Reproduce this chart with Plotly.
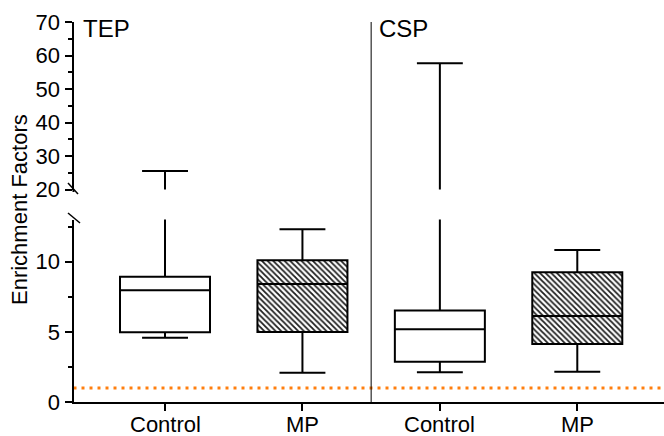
import plotly.graph_objects as go

W, H = 664, 436

# ---- data ----
groups = ["TEP Control", "TEP MP", "CSP Control", "CSP MP"]
tick_labels = ["Control", "MP", "Control", "MP"]
positions = [1, 2, 3, 4]
lower_whisker = [4.58, 2.09, 2.12, 2.16]
q1_vals = [4.97, 4.99, 2.87, 4.13]
median_vals = [7.96, 8.41, 5.18, 6.13]
q3_vals = [8.93, 10.10, 6.51, 9.24]
upper_whisker = [25.5, 12.31, 57.7, 10.83]
hatched = [False, True, False, True]
reference_level = 1.0
panel_labels = ["TEP", "CSP"]

# ---- geometry helpers (pixel -> paper) ----
def px(x):
    return x / W

def py(y):
    return 1 - y / H

FONT = "Liberation Sans, Arial, sans-serif"
x_range = [0.334, 4.631]
box_w = 0.655

fig = go.Figure()

# hatched fill for MP boxes (drawn under the box outlines)
hx = [p for p, h in zip(positions, hatched) if h]
hb = [q for q, h in zip(q1_vals, hatched) if h]
hy = [q3 - q for q3, q, h in zip(q3_vals, q1_vals, hatched) if h]
fig.add_trace(go.Bar(
    x=hx, y=hy, base=hb, width=box_w, xaxis="x", yaxis="y",
    marker=dict(color="white", line=dict(width=0),
                pattern=dict(shape="\\", size=4, solidity=0.45,
                             fgcolor="#1e1e1e", bgcolor="white", fillmode="replace")),
    showlegend=False, hoverinfo="skip"))

# box outlines on lower and upper axis segments
for ya in ["y", "y2"]:
    fig.add_trace(go.Box(
        x=positions, q1=q1_vals, median=median_vals, q3=q3_vals,
        lowerfence=lower_whisker, upperfence=upper_whisker,
        width=box_w, whiskerwidth=0.51, boxpoints=False,
        fillcolor="rgba(0,0,0,0)", line=dict(color="black", width=2),
        xaxis="x", yaxis=ya, showlegend=False, hoverinfo="skip"))

# orange dotted reference line
fig.add_trace(go.Scatter(
    x=x_range, y=[reference_level, reference_level], mode="lines",
    line=dict(color="#FF7F0E", width=3, dash="3px,5px"),
    xaxis="x", yaxis="y", showlegend=False, hoverinfo="skip"))

fig.update_layout(
    width=W, height=H,
    margin=dict(l=0, r=0, t=0, b=0, autoexpand=False),
    paper_bgcolor="white", plot_bgcolor="rgba(0,0,0,0)",
    font=dict(family=FONT, size=22, color="black"),
    xaxis=dict(domain=[px(73.5), 1], range=x_range, anchor="y", automargin=False,
               tickvals=positions, showticklabels=False,
               showline=True, linecolor="black", linewidth=1.5,
               ticks="outside", ticklen=7, tickwidth=2, tickcolor="black",
               showgrid=False, zeroline=False),
    yaxis=dict(domain=[py(402), py(219.5)], range=[0, 13.0], anchor="x", automargin=False,
               tickvals=[0, 5, 10], showline=True, linecolor="black", linewidth=2,
               ticks="outside", ticklen=7, tickwidth=2, tickcolor="black",
               minor=dict(tickvals=[2.5, 7.5, 12.5], ticks="outside", ticklen=4,
                          tickwidth=2, tickcolor="black"),
               showgrid=False, zeroline=False,
               tickfont=dict(size=22, family=FONT)),
    yaxis2=dict(domain=[py(189.5), py(22)], range=[20, 70], anchor="x", automargin=False,
                tickvals=[20, 30, 40, 50, 60, 70], showline=True, linecolor="black",
                linewidth=2, ticks="outside", ticklen=7, tickwidth=2, tickcolor="black",
                minor=dict(tickvals=[25, 35, 45, 55, 65], ticks="outside", ticklen=4,
                           tickwidth=2, tickcolor="black"),
                showgrid=False, zeroline=False,
                tickfont=dict(size=22, family=FONT)),
)

shapes = [
    # panel separator
    dict(type="line", xref="x", yref="paper", x0=2.5, x1=2.5, y0=py(402), y1=py(22),
         line=dict(color="black", width=1)),
    # axis break marks
    dict(type="line", xref="paper", yref="paper", x0=px(73.5), x1=px(73.5),
         y0=py(189.5), y1=py(192), line=dict(color="black", width=2)),
    dict(type="line", xref="paper", yref="paper", x0=px(68), x1=px(78),
         y0=py(183), y1=py(194), line=dict(color="black", width=1.5)),
    dict(type="line", xref="paper", yref="paper", x0=px(68), x1=px(80),
         y0=py(213), y1=py(223), line=dict(color="black", width=1.5)),
]
fig.update_layout(shapes=shapes)

# category labels under the x axis
for pos, lab in zip(positions, tick_labels):
    fig.add_annotation(text=lab, xref="x", yref="paper", x=pos, y=py(424),
                       xanchor="center", yanchor="middle", showarrow=False,
                       font=dict(size=22, family=FONT))

fig.add_annotation(text=panel_labels[0], xref="paper", yref="paper", x=px(81), y=py(29),
                   xanchor="left", yanchor="middle", showarrow=False,
                   font=dict(size=24, family=FONT))
fig.add_annotation(text=panel_labels[1], xref="paper", yref="paper", x=px(377), y=py(29),
                   xanchor="left", yanchor="middle", showarrow=False,
                   font=dict(size=24, family=FONT))
fig.add_annotation(text="Enrichment Factors", xref="paper", yref="paper", x=px(19), y=py(210),
                   xanchor="center", yanchor="middle", textangle=-90, showarrow=False,
                   font=dict(size=22, family=FONT))

fig.write_html("out.html")
